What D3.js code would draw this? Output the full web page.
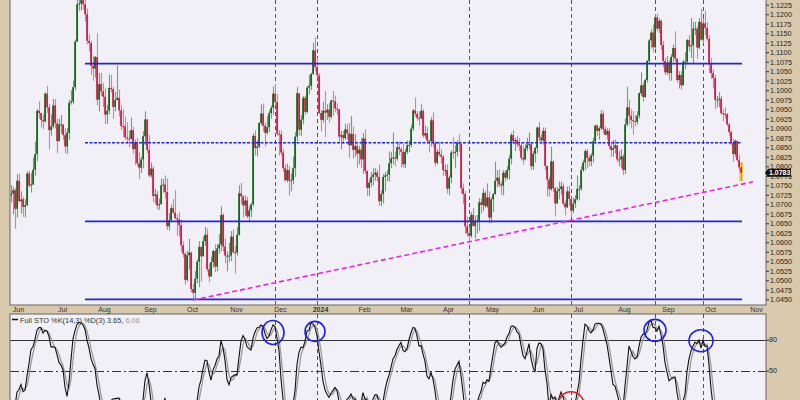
<!DOCTYPE html>
<html><head><meta charset="utf-8">
<script src="https://cdn.jsdelivr.net/npm/d3@7"></script>
<style>html,body{margin:0;padding:0;background:#d8c8ac;}svg{display:block;font-family:"Liberation Sans",Arial,sans-serif;}</style>
</head><body><svg id="c" width="800" height="400"></svg>
<script>
// ---- DATA: daily EUR/USD [high, low, close] per month (open = previous close) ----
const firstOpen = 1.1020;
const may23 = [[1.1030,1.0966,1.0975],[1.1010,1.0940,1.1000],[1.1065,1.0990,1.1054],[1.1092,1.0995,1.1010],[1.1054,1.0990,1.1018],[1.1045,1.0998,1.1005],[1.1015,1.0955,1.0962],[1.0990,1.0940,1.0981],[1.0985,1.0905,1.0915],[1.0925,1.0848,1.0850],[1.0890,1.0840,1.0872],[1.0895,1.0850,1.0862],[1.0870,1.0810,1.0840],[1.0845,1.0760,1.0770],[1.0830,1.0760,1.0805],[1.0830,1.0795,1.0812],[1.0815,1.0760,1.0771],[1.0795,1.0745,1.0751],[1.0760,1.0710,1.0726],[1.0750,1.0705,1.0723],[1.0750,1.0705,1.0728],[1.0746,1.0673,1.0737],[1.0742,1.0635,1.0688]];
const jun23 = [[1.0779,1.0665,1.0762],[1.0780,1.0705,1.0708],[1.0734,1.0676,1.0713],[1.0720,1.0667,1.0693],[1.0714,1.0665,1.0698],[1.0787,1.0695,1.0781],[1.0789,1.0745,1.0749],[1.0783,1.0731,1.0752],[1.0823,1.0750,1.0791],[1.0865,1.0775,1.0832],[1.0950,1.0813,1.0946],[1.0971,1.0925,1.0940],[1.0940,1.0902,1.0922],[1.0936,1.0898,1.0918],[1.0995,1.0915,1.0991],[1.1012,1.0940,1.0955],[1.0963,1.0844,1.0895],[1.0937,1.0880,1.0905],[1.0977,1.0899,1.0960],[1.0976,1.0900,1.0913],[1.0925,1.0834,1.0866],[1.0925,1.0866,1.0910]];
const jul23 = [[1.0935,1.0886,1.0910],[1.0910,1.0870,1.0882],[1.0900,1.0834,1.0852],[1.0900,1.0833,1.0888],[1.0975,1.0870,1.0967],[1.1000,1.0962,1.0970],[1.1025,1.0963,1.1008],[1.1133,1.1000,1.1128],[1.1245,1.1127,1.1226],[1.1245,1.1209,1.1228],[1.1245,1.1210,1.1237],[1.1276,1.1212,1.1226],[1.1243,1.1180,1.1200],[1.1215,1.1120,1.1130],[1.1147,1.1101,1.1124],[1.1130,1.1040,1.1064],[1.1090,1.1025,1.1057],[1.1090,1.1033,1.1087],[1.1150,1.0960,1.0975],[1.1045,1.0944,1.1016],[1.1046,1.0985,1.0997]];
const aug23 = [[1.1019,1.0956,1.0983],[1.1005,1.0911,1.0936],[1.0962,1.0912,1.0946],[1.1042,1.0936,1.1006],[1.1040,1.0994,1.1003],[1.1010,1.0925,1.0956],[1.0996,1.0944,1.0974],[1.1065,1.0976,1.0980],[1.1002,1.0930,1.0947],[1.0962,1.0895,1.0906],[1.0950,1.0876,1.0905],[1.0930,1.0870,1.0876],[1.0916,1.0860,1.0873],[1.0894,1.0850,1.0872],[1.0928,1.0870,1.0895],[1.0903,1.0833,1.0845],[1.0870,1.0804,1.0862],[1.0875,1.0800,1.0808],[1.0837,1.0766,1.0796],[1.0825,1.0782,1.0818],[1.0893,1.0795,1.0879],[1.0945,1.0856,1.0923],[1.0924,1.0834,1.0843]];
const sep23 = [[1.0882,1.0771,1.0776],[1.0810,1.0770,1.0794],[1.0800,1.0705,1.0722],[1.0741,1.0700,1.0726],[1.0735,1.0686,1.0697],[1.0715,1.0685,1.0700],[1.0768,1.0700,1.0750],[1.0767,1.0730,1.0752],[1.0776,1.0715,1.0732],[1.0768,1.0632,1.0642],[1.0677,1.0631,1.0658],[1.0699,1.0653,1.0690],[1.0714,1.0675,1.0678],[1.0737,1.0661,1.0663],[1.0674,1.0617,1.0660],[1.0680,1.0615,1.0645],[1.0660,1.0575,1.0592],[1.0603,1.0560,1.0570],[1.0573,1.0488,1.0501],[1.0577,1.0496,1.0566],[1.0609,1.0528,1.0573]];
const oct23 = [[1.0575,1.0468,1.0477],[1.0490,1.0448,1.0467],[1.0525,1.0450,1.0504],[1.0555,1.0492,1.0549],[1.0603,1.0482,1.0588],[1.0585,1.0496,1.0563],[1.0616,1.0564,1.0603],[1.0640,1.0590,1.0620],[1.0636,1.0523,1.0529],[1.0545,1.0495,1.0510],[1.0562,1.0514,1.0548],[1.0580,1.0533,1.0577],[1.0595,1.0522,1.0536],[1.0595,1.0524,1.0584],[1.0622,1.0570,1.0594],[1.0695,1.0577,1.0672],[1.0676,1.0575,1.0589],[1.0610,1.0545,1.0565],[1.0576,1.0524,1.0565],[1.0599,1.0548,1.0565],[1.0630,1.0551,1.0615],[1.0634,1.0570,1.0574]];
const nov23 = [[1.0590,1.0517,1.0573],[1.0640,1.0565,1.0620],[1.0750,1.0617,1.0729],[1.0756,1.0700,1.0721],[1.0725,1.0665,1.0697],[1.0723,1.0670,1.0710],[1.0720,1.0663,1.0668],[1.0695,1.0655,1.0684],[1.0704,1.0666,1.0700],[1.0887,1.0695,1.0880],[1.0895,1.0828,1.0848],[1.0868,1.0826,1.0852],[1.0916,1.0847,1.0914],[1.0963,1.0907,1.0939],[1.0965,1.0891,1.0907],[1.0915,1.0852,1.0888],[1.0932,1.0883,1.0903],[1.0947,1.0890,1.0940],[1.0960,1.0925,1.0954],[1.1010,1.0936,1.0991],[1.1017,1.0960,1.0969],[1.0990,1.0880,1.0886]];
const dec23 = [[1.0895,1.0828,1.0884],[1.0894,1.0829,1.0836],[1.0845,1.0785,1.0795],[1.0805,1.0760,1.0763],[1.0807,1.0757,1.0790],[1.0800,1.0723,1.0762],[1.0781,1.0734,1.0763],[1.0826,1.0753,1.0795],[1.0890,1.0772,1.0878],[1.1009,1.0866,1.0992],[1.0988,1.0880,1.0896],[1.0935,1.0880,1.0923],[1.0985,1.0910,1.0980],[1.0986,1.0935,1.0943],[1.1011,1.0940,1.1007],[1.1040,1.0989,1.1012],[1.1046,1.1000,1.1043],[1.1125,1.1040,1.1105],[1.1139,1.1051,1.1061],[1.1085,1.1033,1.1039]];
const jan24 = [[1.1045,1.0937,1.0940],[1.0948,1.0892,1.0922],[1.0970,1.0915,1.0946],[1.0998,1.0877,1.0941],[1.0963,1.0922,1.0949],[1.0967,1.0915,1.0930],[1.0975,1.0925,1.0973],[1.0998,1.0933,1.0971],[1.0986,1.0942,1.0952],[1.0966,1.0935,1.0950],[1.0950,1.0865,1.0878],[1.0893,1.0844,1.0882],[1.0893,1.0860,1.0874],[1.0912,1.0870,1.0897],[1.0911,1.0870,1.0887],[1.0914,1.0822,1.0855],[1.0932,1.0855,1.0885],[1.0905,1.0820,1.0843],[1.0885,1.0825,1.0853],[1.0860,1.0795,1.0833],[1.0854,1.0805,1.0844],[1.0875,1.0795,1.0818]];
const feb24 = [[1.0888,1.0780,1.0873],[1.0897,1.0780,1.0788],[1.0785,1.0722,1.0743],[1.0765,1.0722,1.0757],[1.0785,1.0745,1.0772],[1.0795,1.0750,1.0778],[1.0795,1.0762,1.0783],[1.0790,1.0760,1.0772],[1.0805,1.0696,1.0708],[1.0736,1.0695,1.0727],[1.0780,1.0702,1.0772],[1.0785,1.0734,1.0776],[1.0790,1.0760,1.0778],[1.0839,1.0760,1.0808],[1.0838,1.0795,1.0821],[1.0888,1.0805,1.0823],[1.0838,1.0800,1.0820],[1.0865,1.0815,1.0850],[1.0865,1.0830,1.0845],[1.0850,1.0797,1.0838],[1.0860,1.0796,1.0805]];
const mar24 = [[1.0845,1.0795,1.0838],[1.0868,1.0832,1.0855],[1.0868,1.0837,1.0856],[1.0909,1.0850,1.0899],[1.0950,1.0893,1.0947],[1.0981,1.0930,1.0938],[1.0945,1.0920,1.0927],[1.0944,1.0906,1.0926],[1.0963,1.0924,1.0946],[1.0950,1.0875,1.0881],[1.0907,1.0873,1.0887],[1.0903,1.0860,1.0867],[1.0870,1.0836,1.0866],[1.0929,1.0852,1.0921],[1.0942,1.0850,1.0861],[1.0868,1.0800,1.0809],[1.0845,1.0805,1.0838],[1.0865,1.0825,1.0831],[1.0845,1.0807,1.0825],[1.0830,1.0775,1.0790],[1.0805,1.0775,1.0790]];
const apr24 = [[1.0805,1.0728,1.0741],[1.0776,1.0724,1.0770],[1.0842,1.0755,1.0836],[1.0876,1.0820,1.0835],[1.0855,1.0795,1.0838],[1.0868,1.0825,1.0861],[1.0885,1.0838,1.0859],[1.0860,1.0728,1.0742],[1.0755,1.0700,1.0727],[1.0735,1.0622,1.0642],[1.0668,1.0615,1.0624],[1.0640,1.0601,1.0617],[1.0680,1.0612,1.0672],[1.0690,1.0640,1.0643],[1.0670,1.0610,1.0656],[1.0672,1.0623,1.0656],[1.0716,1.0630,1.0705],[1.0715,1.0675,1.0698],[1.0742,1.0682,1.0730],[1.0735,1.0690,1.0695],[1.0755,1.0690,1.0718],[1.0733,1.0650,1.0665]];
const may24 = [[1.0718,1.0650,1.0713],[1.0730,1.0680,1.0727],[1.0812,1.0725,1.0762],[1.0790,1.0745,1.0770],[1.0791,1.0745,1.0752],[1.0760,1.0725,1.0749],[1.0790,1.0723,1.0783],[1.0790,1.0760,1.0770],[1.0800,1.0765,1.0790],[1.0830,1.0765,1.0820],[1.0888,1.0805,1.0882],[1.0895,1.0860,1.0866],[1.0875,1.0840,1.0869],[1.0880,1.0850,1.0858],[1.0875,1.0840,1.0855],[1.0862,1.0815,1.0822],[1.0853,1.0805,1.0818],[1.0858,1.0815,1.0847],[1.0875,1.0840,1.0857],[1.0889,1.0845,1.0858],[1.0862,1.0790,1.0800],[1.0840,1.0790,1.0833],[1.0852,1.0810,1.0848]];
const jun24 = [[1.0904,1.0834,1.0902],[1.0916,1.0865,1.0876],[1.0885,1.0860,1.0868],[1.0902,1.0857,1.0893],[1.0902,1.0790,1.0801],[1.0790,1.0720,1.0765],[1.0772,1.0720,1.0740],[1.0852,1.0735,1.0813],[1.0815,1.0732,1.0742],[1.0745,1.0668,1.0702],[1.0745,1.0705,1.0735],[1.0760,1.0713,1.0740],[1.0760,1.0725,1.0747],[1.0755,1.0697,1.0702],[1.0710,1.0671,1.0692],[1.0747,1.0690,1.0734],[1.0748,1.0695,1.0714],[1.0717,1.0666,1.0683],[1.0718,1.0676,1.0702],[1.0724,1.0690,1.0713]];
const jul24 = [[1.0776,1.0710,1.0740],[1.0750,1.0710,1.0741],[1.0800,1.0735,1.0790],[1.0817,1.0785,1.0810],[1.0845,1.0790,1.0840],[1.0845,1.0795,1.0822],[1.0830,1.0800,1.0813],[1.0835,1.0800,1.0828],[1.0875,1.0810,1.0866],[1.0910,1.0860,1.0907],[1.0910,1.0880,1.0893],[1.0905,1.0870,1.0900],[1.0948,1.0895,1.0938],[1.0945,1.0885,1.0898],[1.0905,1.0880,1.0883],[1.0900,1.0870,1.0893],[1.0900,1.0845,1.0853],[1.0865,1.0825,1.0843],[1.0869,1.0825,1.0848],[1.0870,1.0833,1.0855],[1.0855,1.0810,1.0818],[1.0840,1.0800,1.0818],[1.0845,1.0795,1.0826]];
const aug24 = [[1.0832,1.0777,1.0790],[1.0926,1.0780,1.0910],[1.1009,1.0905,1.0955],[1.0975,1.0910,1.0933],[1.0950,1.0900,1.0922],[1.0945,1.0883,1.0919],[1.0935,1.0905,1.0917],[1.0945,1.0910,1.0933],[1.0995,1.0925,1.0992],[1.1047,1.0985,1.1013],[1.1020,1.0970,1.0982],[1.1030,1.0980,1.1027],[1.1080,1.1020,1.1077],[1.1135,1.1070,1.1131],[1.1160,1.1110,1.1152],[1.1173,1.1100,1.1113],[1.1200,1.1110,1.1192],[1.1202,1.1155,1.1162],[1.1190,1.1150,1.1183],[1.1185,1.1105,1.1119],[1.1130,1.1060,1.1077],[1.1085,1.1040,1.1047]];
const sep24 = [[1.1090,1.1040,1.1073],[1.1080,1.1025,1.1045],[1.1095,1.1025,1.1088],[1.1120,1.1075,1.1111],[1.1155,1.1075,1.1083],[1.1080,1.1020,1.1027],[1.1050,1.1005,1.1040],[1.1050,1.1001,1.1013],[1.1080,1.1017,1.1075],[1.1100,1.1055,1.1075],[1.1135,1.1070,1.1132],[1.1145,1.1102,1.1115],[1.1190,1.1085,1.1118],[1.1180,1.1070,1.1162],[1.1180,1.1145,1.1162],[1.1168,1.1083,1.1112],[1.1190,1.1108,1.1180],[1.1214,1.1130,1.1133],[1.1190,1.1123,1.1176],[1.1210,1.1145,1.1164],[1.1180,1.1130,1.1135]];
const oct24 = [[1.1145,1.1045,1.1068],[1.1085,1.1030,1.1045],[1.1055,1.1005,1.1032],[1.1040,1.0950,1.0975],[1.0985,1.0955,1.0975],[1.0995,1.0955,1.0978],[1.0985,1.0935,1.0940],[1.0950,1.0918,1.0938],[1.0955,1.0925,1.0937],[1.0940,1.0905,1.0910],[1.0915,1.0880,1.0890],[1.0895,1.0855,1.0862],[1.0872,1.0811,1.0832],[1.0870,1.0825,1.0867],[1.0865,1.0813,1.0816],[1.0831,1.0790,1.0797],[1.0810,1.0761,1.0783]];
const months = [["2023-05",may23],["2023-06",jun23],["2023-07",jul23],["2023-08",aug23],["2023-09",sep23],["2023-10",oct23],["2023-11",nov23],["2023-12",dec23],["2024-01",jan24],["2024-02",feb24],["2024-03",mar24],["2024-04",apr24],["2024-05",may24],["2024-06",jun24],["2024-07",jul24],["2024-08",aug24],["2024-09",sep24],["2024-10",oct24]];

const priceTicks = [1.0450,1.0475,1.0500,1.0525,1.0550,1.0575,1.0600,1.0625,1.0650,1.0675,1.0700,1.0725,1.0750,1.0775,1.0800,1.0825,1.0850,1.0875,1.0900,1.0925,1.0950,1.0975,1.1000,1.1025,1.1050,1.1075,1.1100,1.1125,1.1150,1.1175,1.1200,1.1225];
const monthLabels = [["2023-06","Jun"],["2023-07","Jul"],["2023-08","Aug"],["2023-09","Sep"],["2023-10","Oct"],["2023-11","Nov"],["2023-12","Dec"],["2024-01","2024"],["2024-02","Feb"],["2024-03","Mar"],["2024-04","Apr"],["2024-05","May"],["2024-06","Jun"],["2024-07","Jul"],["2024-08","Aug"],["2024-09","Sep"],["2024-10","Oct"],["2024-11","Nov"]];
const stoTicks = [80, 50];
const supportLines = [1.1070, 1.0655, 1.0450];
const dottedLine = 1.0862;
const levelStart = "2023-07-19";
const trendLine = [["2023-10-03", 1.0448], ["2024-10-31", 1.0759]];
const markerDates = ["2023-11-29","2023-12-29","2024-04-16","2024-06-26","2024-08-23","2024-09-26"];
const blueCircles = [["2023-11-28", 87, 11, 12], ["2023-12-28", 88, 10, 10], ["2024-08-23", 89, 11, 11], ["2024-09-25", 79, 12, 11]];
const redCircles = [["2024-06-26", 17, 13, 13]];
const lastLabel = "1.0783";
const stoTitle = "Full STO %K(14,3) %D(3) 3.65, ";
const stoTitle2 = "6.06";

// ---- build trading days ----
function tradingDays(start, end){
  const out=[]; const d=new Date(start+"T00:00:00Z"); const e=new Date(end+"T00:00:00Z");
  while(d<=e){ const wd=d.getUTCDay(); const s=d.toISOString().slice(0,10); const md=s.slice(5);
    if(wd!==0&&wd!==6&&md!=="12-25"&&md!=="01-01") out.push(s); d.setUTCDate(d.getUTCDate()+1);}
  return out;
}
const days = tradingDays("2023-05-01","2024-11-08");
const bars=[]; let prev=firstOpen;
months.forEach(([key,arr])=>{
  const md = days.filter(s=>s.startsWith(key));
  arr.forEach((v,k)=>{ const o=prev, c=v[2]; bars.push({date:md[k], o, h:Math.max(v[0],o,c), l:Math.min(v[1],o,c), c}); prev=c; });
});
bars.forEach(b=>b.i=days.indexOf(b.date));
const idx = s=>days.indexOf(s);

// ---- layout ----
const L=10, R=766, PB=305, ST=314;
const svg=d3.select("#c");
const x=d3.scaleLinear().domain([idx("2023-05-29"), idx("2024-10-23")]).range([11,741]);
const y=d3.scaleLinear().domain([1.0450,1.1225]).range([299.3,4.7]);
const ys=d3.scaleLinear().domain([0,100]).range([422.3,319]);

svg.append("rect").attr("width",800).attr("height",400).attr("fill","#d8c8ac");
svg.append("rect").attr("x",L).attr("y",-2).attr("width",R-L).attr("height",PB+2).attr("fill","#f0f0f6").attr("stroke","#666");
svg.append("rect").attr("x",L).attr("y",ST).attr("width",R-L).attr("height",120).attr("fill","#f0f0f6").attr("stroke","#666");
const defs=svg.append("defs");
defs.append("clipPath").attr("id","cp").append("rect").attr("x",L+0.5).attr("y",-2).attr("width",R-L-1).attr("height",PB+2);
defs.append("clipPath").attr("id","cs").append("rect").attr("x",L+0.5).attr("y",ST+0.5).attr("width",R-L-1).attr("height",120);

// vertical dashed markers
const vg=svg.append("g");
markerDates.forEach(dt=>{
  const xx=Math.round(x(idx(dt)))+0.5;
  vg.append("line").attr("x1",xx).attr("x2",xx).attr("y1",0).attr("y2",PB).attr("stroke","#555").attr("stroke-dasharray","4,3");
  vg.append("line").attr("x1",xx).attr("x2",xx).attr("y1",ST).attr("y2",400).attr("stroke","#555").attr("stroke-dasharray","4,3");
});

// candles
const pg=svg.append("g").attr("clip-path","url(#cp)");
const last=bars[bars.length-1];
pg.append("rect").attr("x",x(last.i)-2).attr("y",y(last.h)).attr("width",4).attr("height",y(last.l)-y(last.h)).attr("fill","#f6cc50");
pg.selectAll("line.w").data(bars).join("line").attr("class","w")
  .attr("x1",d=>x(d.i)+0.5).attr("x2",d=>x(d.i)+0.5).attr("y1",d=>y(d.h)).attr("y2",d=>y(d.l))
  .attr("stroke",d=>d.c>=d.o?"#6aa56a":"#e87c96").attr("stroke-width",1.1);
pg.selectAll("rect.b").data(bars).join("rect").attr("class","b")
  .attr("x",d=>x(d.i)-0.8).attr("width",1.7)
  .attr("y",d=>y(Math.max(d.o,d.c))).attr("height",d=>Math.max(1,Math.abs(y(d.o)-y(d.c))))
  .attr("fill",d=>d.c>=d.o?"#0a6410":"#d6103c");

// horizontal levels
const x1=x(idx(levelStart)), x2=x(last.i)+1;
supportLines.forEach(p=>pg.append("line").attr("x1",x1).attr("x2",x2).attr("y1",y(p)).attr("y2",y(p)).attr("stroke","#2222e8").attr("stroke-width",1.8));
pg.append("line").attr("x1",x1).attr("x2",x2).attr("y1",y(dottedLine)).attr("y2",y(dottedLine)).attr("stroke","#2222e8").attr("stroke-width",1.6).attr("stroke-dasharray","3,1.5");
// trend line
pg.append("line").attr("x1",x(idx(trendLine[0][0]))).attr("y1",y(trendLine[0][1]))
  .attr("x2",x(idx(trendLine[1][0]))).attr("y2",y(trendLine[1][1]))
  .attr("stroke","#f020f0").attr("stroke-width",1.6).attr("stroke-dasharray","5,3");

// price axis
const ay=svg.append("g").attr("transform",`translate(${R},0)`).call(d3.axisRight(y).tickValues(priceTicks).tickFormat(d3.format(".4f")).tickSize(3).tickPadding(1));
ay.select(".domain").remove();
ay.selectAll("line").attr("stroke","#333");
ay.selectAll("text").attr("font-size","7.2px").attr("fill","#222").attr("font-family","Liberation Sans, Arial, sans-serif");
// last price tag
const ly=y(last.c);
svg.append("path").attr("d",`M${R-1},${ly} L${R+2},${ly-4} H${R+25} V${ly+4} H${R+2} Z`).attr("fill","#111");
svg.append("text").attr("x",R+3).attr("y",ly).attr("dy","0.35em").attr("font-size","7px").attr("font-weight","bold").attr("fill","#fff").text(lastLabel);

// month labels
monthLabels.forEach(([m,t])=>{
  const first=days.find(s=>s.startsWith(m));
  svg.append("text").attr("x",x(idx(first))+1.5).attr("y",312).attr("text-anchor","middle")
    .attr("font-size","7px").attr("font-weight",t==="2024"?"bold":"normal").attr("fill","#333").text(t);
});

// STO
const fastK=bars.map((b,i)=>{ if(i<13) return null; const w=bars.slice(i-13,i+1); const hh=d3.max(w,d=>d.h), ll=d3.min(w,d=>d.l); return hh===ll?50:(b.c-ll)/(hh-ll)*100; });
const sma=(a,n)=>a.map((v,i)=>{ if(i<n-1) return null; const w=a.slice(i-n+1,i+1); return w.some(z=>z==null)?null:d3.mean(w); });
const fullK=sma(fastK,3), fullD=sma(fullK,3);
const sg=svg.append("g").attr("clip-path","url(#cs)");
stoTicks.forEach(v=>{
  sg.append("line").attr("x1",L).attr("x2",R).attr("y1",Math.round(ys(v))+0.5).attr("y2",Math.round(ys(v))+0.5)
   .attr("stroke","#333").attr("stroke-width",1).attr("stroke-dasharray",v===50?"9,3,2,3":null);
});
const ln=d3.line().defined(d=>d.v!=null).x(d=>x(d.i)).y(d=>ys(d.v));
sg.append("path").datum(bars.map((b,i)=>({i:b.i,v:fullD[i]}))).attr("d",ln).attr("fill","none").attr("stroke","#9a9a9a").attr("stroke-width",1.3);
sg.append("path").datum(bars.map((b,i)=>({i:b.i,v:fullK[i]}))).attr("d",ln).attr("fill","none").attr("stroke","#111").attr("stroke-width",1.1);
blueCircles.forEach(([dt,v,rx,ry])=>sg.append("ellipse").attr("cx",x(idx(dt))).attr("cy",ys(v)).attr("rx",rx).attr("ry",ry).attr("fill","none").attr("stroke","#2020f0").attr("stroke-width",1.6));
redCircles.forEach(([dt,v,rx,ry])=>sg.append("ellipse").attr("cx",x(idx(dt))).attr("cy",ys(v)).attr("rx",rx).attr("ry",ry).attr("fill","none").attr("stroke","#e81818").attr("stroke-width",1.6));
const as=svg.append("g").attr("transform",`translate(${R},0)`).call(d3.axisRight(ys).tickValues(stoTicks).tickSize(3).tickPadding(0));
as.select(".domain").remove();
as.selectAll("line").attr("stroke","#333");
as.selectAll("text").attr("font-size","7.2px").attr("fill","#222");
// STO title
svg.append("line").attr("x1",12).attr("x2",18).attr("y1",319.5).attr("y2",319.5).attr("stroke","#111").attr("stroke-width",1.5);
const tt=svg.append("text").attr("x",20).attr("y",322.5).attr("font-size","7.4px").attr("fill","#333");
tt.append("tspan").text(stoTitle);
tt.append("tspan").attr("fill","#999").text(stoTitle2);
</script></body></html>
